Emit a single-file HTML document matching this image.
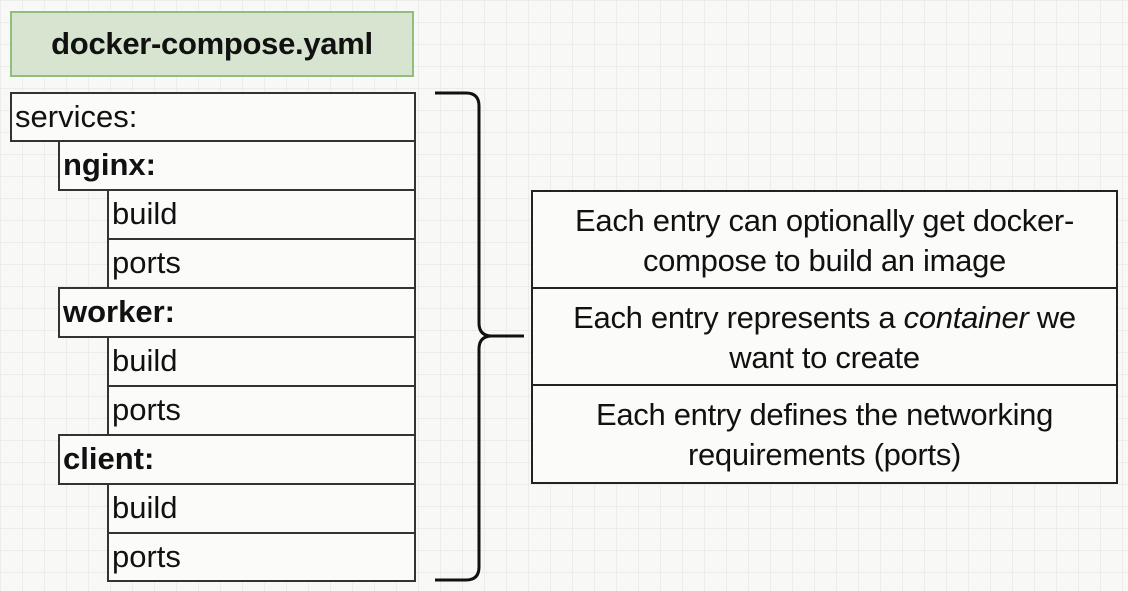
<!DOCTYPE html>
<html><head><style>
html,body{margin:0;padding:0}
body{width:1128px;height:591px;position:relative;overflow:hidden;background-color:#f8f8f6;
background-image:linear-gradient(#ececea 1px,transparent 1px),linear-gradient(90deg,#ececea 1px,transparent 1px);
background-size:22px 22px;font-family:"Liberation Sans",Arial,sans-serif;color:#111}
.b{position:absolute;box-sizing:border-box;border:2px solid #333;background:#fbfbfa;font-size:31px;line-height:46px;padding-left:3px}
.t{position:absolute;left:10px;top:11px;width:404px;height:66px;box-sizing:border-box;border:2px solid #8fbf7a;background:#d6e4d0;font-weight:bold;font-size:31px;text-align:center;line-height:62px;letter-spacing:-0.3px}
.r{position:absolute;left:531px;width:587px;box-sizing:border-box;border:2.5px solid #222;background:#fbfbfa;font-size:31px;line-height:40px;text-align:center;padding-top:9px;white-space:nowrap;letter-spacing:-0.3px}
</style></head><body>
<div class="t">docker-compose.yaml</div>
<div class="b" style="left:10px;top:92px;width:406px;height:50px">services:</div>
<div class="b" style="left:58px;top:140px;width:358px;height:51px;font-weight:bold">nginx:</div>
<div class="b" style="left:107px;top:189px;width:309px;height:51px">build</div>
<div class="b" style="left:107px;top:238px;width:309px;height:51px">ports</div>
<div class="b" style="left:58px;top:287px;width:358px;height:51px;font-weight:bold">worker:</div>
<div class="b" style="left:107px;top:336px;width:309px;height:51px">build</div>
<div class="b" style="left:107px;top:385px;width:309px;height:51px">ports</div>
<div class="b" style="left:58px;top:434px;width:358px;height:51px;font-weight:bold">client:</div>
<div class="b" style="left:107px;top:483px;width:309px;height:51px">build</div>
<div class="b" style="left:107px;top:532px;width:309px;height:50px">ports</div>
<svg style="position:absolute;left:0;top:0" width="1128" height="591">
<path d="M435 93 H466 Q479 93 479 106 V323 Q479 336 492 336 H524 M492 336 Q479 336 479 349 V567 Q479 580 466 580 H435" fill="none" stroke="#111" stroke-width="3"/>
</svg>
<div class="r" style="top:190px;height:100px">Each entry can optionally get docker-<br>compose to build an image</div>
<div class="r" style="top:287px;height:100px">Each entry represents a <i>container</i> we<br>want to create</div>
<div class="r" style="top:384px;height:100px">Each entry defines the networking<br>requirements (ports)</div>
</body></html>
